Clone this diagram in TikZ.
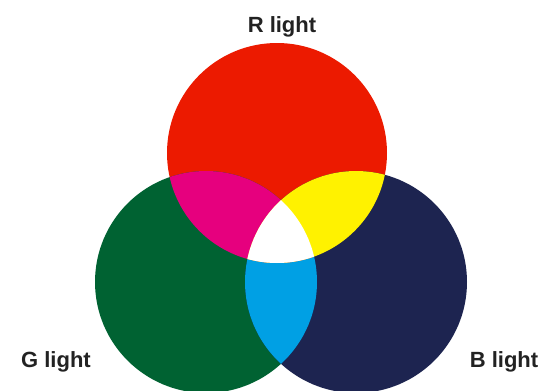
\documentclass[tikz,border=0pt]{standalone}
\usepackage{fontspec}
\setmainfont{Liberation Sans}
\definecolor{lightR}{RGB}{236,26,0}
\definecolor{lightG}{RGB}{0,98,50}
\definecolor{lightB}{RGB}{29,36,80}
\definecolor{mixRG}{RGB}{230,0,126}
\definecolor{mixRB}{RGB}{255,242,0}
\definecolor{mixGB}{RGB}{0,160,228}
\definecolor{lbltext}{RGB}{34,34,34}
\tikzset{
  lbl/.style = {font=\bfseries\fontsize{22}{26}\selectfont,text=lbltext,inner sep=0pt,anchor=base}
}
\newcommand{\circR}{(277,153) circle (110)}
\newcommand{\circG}{(206,282) circle (111)}
\newcommand{\circB}{(356,282) circle (111)}

\begin{document}
\begin{tikzpicture}[x=1pt,y=-1pt]
  \useasboundingbox (0,0) rectangle (552,391);
  \fill[lightR] \circR;
  \fill[lightG] \circG;
  \fill[lightB] \circB;
  \begin{scope}
    \clip \circG;
    \fill[mixGB] \circB;
  \end{scope}
  \begin{scope}
    \clip \circR;
    \fill[mixRG] \circG;
    \fill[mixRB] \circB;
    \clip \circG;
    \fill[white] \circB;
  \end{scope}
  \node[lbl] (rlabel) at (282,32) {R light};
  \node[lbl] (glabel) at (56,367) {G light};
  \node[lbl] (blabel) at (504,367) {B light};
\end{tikzpicture}
\end{document}
